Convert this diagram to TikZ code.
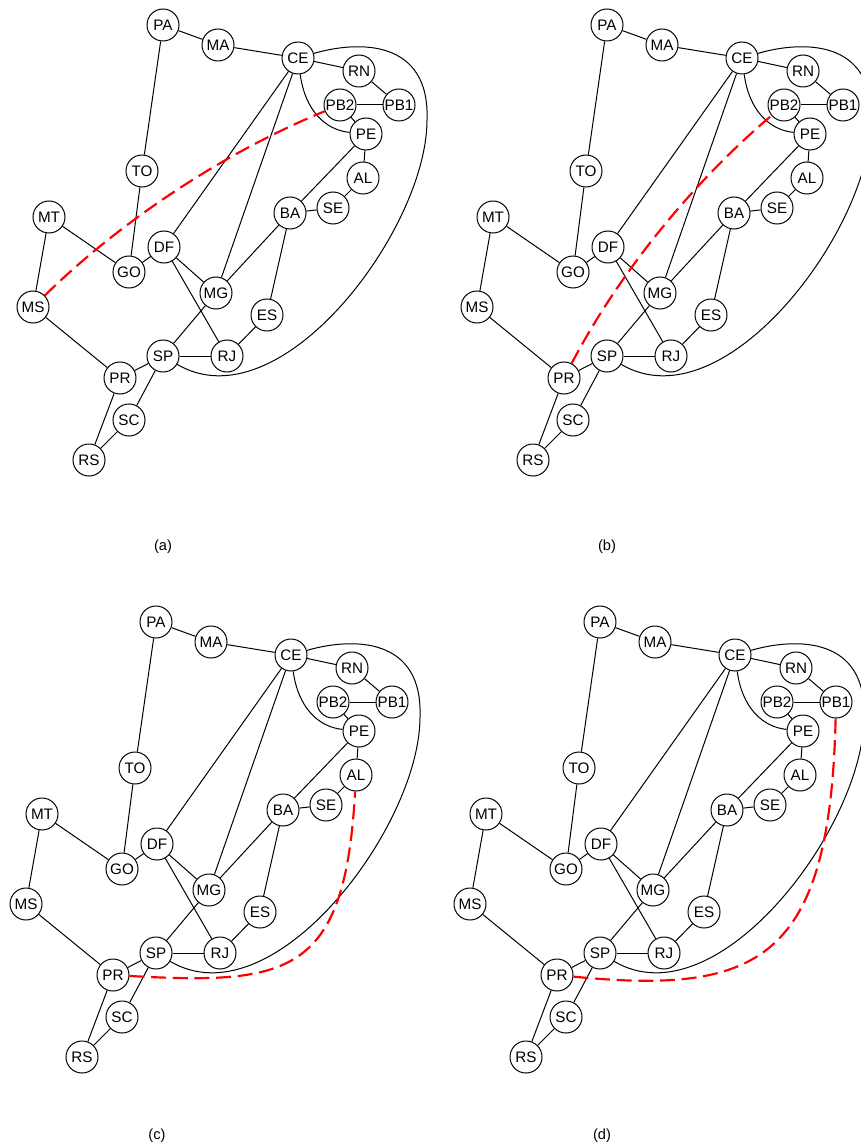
\documentclass[tikz,border=0pt]{standalone}
\usepackage{fontspec}
\setmainfont{Liberation Sans}
\begin{document}
\begin{tikzpicture}[x=0.3mm,y=-0.3mm,
  state/.style={circle,draw,fill=white,minimum size=9.6mm,inner sep=0pt,
    line width=0.3mm,font=\fontsize{13}{13}\selectfont},
  edge/.style={line width=0.3mm},
  cut/.style={red,line width=0.65mm,dash pattern=on 4.5mm off 2mm},
  caption/.style={font=\fontsize{12.5}{12.5}\selectfont}]
\useasboundingbox (0,0) rectangle (861,1146);
% the same map in every panel
\foreach \p/\dx/\dy in {a/0/0,b/444/0,c/-7/597,d/437/597}{
  \begin{scope}[shift={(\dx,\dy)}]
    \foreach \n/\x/\y in {PA/163/25,MA/218/45,CE/298/58,RN/359/71,PB2/340/105,
        PB1/399/105,PE/366/134,AL/363/178,SE/333/208,BA/290/213,TO/142/171,
        MT/49/217,DF/164/247,GO/129/272,MG/216/293,MS/33/307,ES/267/315,
        SP/163/356,RJ/227/356,PR/120/378,SC/129/420,RS/89/460}
      \node[state] (\p-\n) at (\x,\y) {\n};
    \foreach \u/\v in {PA/MA,MA/CE,PA/TO,TO/GO,MT/GO,MT/MS,MS/PR,GO/DF,DF/CE,
        DF/MG,DF/RJ,CE/MG,CE/RN,RN/PB1,PB2/PB1,PB2/PE,PE/BA,PE/AL,AL/SE,SE/BA,
        BA/MG,BA/ES,ES/RJ,SP/RJ,SP/MG,SP/PR,SP/SC,SC/RS,RS/PR}
      \draw[edge] (\p-\u) -- (\p-\v);
    \draw[edge] (\p-CE) .. controls (305,110) and (325,130) .. (\p-PE);
    \draw[edge] (\p-CE) .. controls (360,40) and (430,40) .. (427,120)
      .. controls (427,230) and (280,425) .. (\p-SP);
  \end{scope}
}
% the added links
\draw[cut] (a-MS) .. controls (122,220) and (225,152) .. (a-PB2);
\draw[cut] (b-PR) .. controls (619,273) and (693,182) .. (b-PB2);
\draw[cut] (c-PR) .. controls (290,985) and (345,975) .. (c-AL);
\draw[cut] (d-PR) .. controls (760,995) and (830,960) .. (d-PB1);
\node[caption] (capa) at (163,547) {(a)};
\node[caption] (capb) at (607,547) {(b)};
\node[caption] (capc) at (157,1136) {(c)};
\node[caption] (capd) at (602,1136) {(d)};
\end{tikzpicture}
\end{document}
